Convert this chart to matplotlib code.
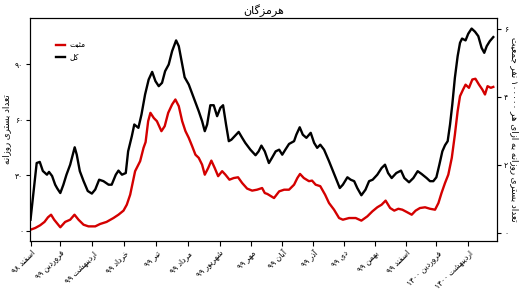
import matplotlib
matplotlib.use("Agg")
import matplotlib.pyplot as plt

# ---------------- data ----------------
# day offsets from 1 Esfand 1398 (2020-02-20)
total_days = [0, 3, 6, 9, 12, 16, 18, 21, 24, 26, 29, 32, 35, 38.6, 43, 45, 48, 51.6, 55.7, 59.7,
              63, 66.8, 71, 76, 79, 83, 85.6, 89, 92.7, 95, 98.6, 101, 105, 108, 111.5, 115,
              118.4, 121.6, 124.8, 128, 131, 134.5, 137.8, 141.7, 144.3, 147, 150, 154, 157,
              160.5, 163.7, 167, 169.6, 171.9, 175, 178.3, 181.6, 184.8, 187.4, 190.3, 193,
              195.5, 198.7, 202.6, 206, 209, 214, 219, 222, 224.7, 228, 232, 235, 238.6, 242,
              245, 248, 251.6, 256.5, 258.7, 262, 265, 268.5, 272.7, 276, 279, 282, 285.7,
              290.5, 293.8, 297, 301, 304, 308.4, 311.6, 315, 318, 322, 326, 329.5, 333,
              337.5, 341.7, 345, 348, 351.5, 356, 360.6, 363.8, 368.4, 372.6, 376.8, 380.6,
              385.5, 388.8, 392, 395, 397.9, 400.8, 403.4, 406, 408.3, 410.5, 413, 415.7,
              418, 420, 423.4, 426, 429.3, 432.6, 435.8, 439, 441.6, 444, 447, 450.4]
total_vals = [6.1, 21.6, 36.7, 37.3, 32.4, 30.4, 31.9, 29.7, 25, 23, 20.5, 25, 30.4, 35.8, 45.2,
              41.2, 32.3, 27, 21.6, 20.2, 22.4, 27.7, 26.9, 25, 25, 30.4, 32.6, 30.4, 31.3, 43,
              51.2, 57.5, 55.7, 62.9, 73.7, 81.8, 85.9, 80.9, 78.2, 80, 86.3, 89.9, 97.1,
              102.9, 99.8, 91.7, 83, 79.1, 74.6, 69.2, 64.7, 59.3, 53.9, 57.5, 67.9, 67.9, 62,
              66.5, 67.9, 57.5, 48.5, 49.3, 51.2, 53.5, 50.3, 47.6, 43.9, 40.9, 43, 46.1, 43,
              36.7, 39.5, 43, 43.9, 41.2, 43.9, 47, 48.5, 52, 56, 52, 50.3, 53, 47.6, 44.9,
              46.6, 43.9, 37.7, 33.1, 28.6, 23.2, 25, 29, 27.7, 26.9, 23.2, 19.3, 22.3, 26.9,
              27.7, 30.4, 34, 35.8, 31.3, 28.6, 31.3, 32.6, 28.6, 26.3, 28.6, 32.3, 30.8,
              28.6, 26.9, 26.9, 29, 35.8, 43, 46.3, 48.5, 57.5, 68.3, 82.7, 94.4, 101.6,
              103.9, 102.9, 106.5, 109.3, 107.6, 105.2, 98.9, 96.2, 99.8, 102.5, 104.7]

pos_days = [0, 4.5, 9.4, 13.6, 17, 20, 23, 29, 33.7, 38.6, 42.8, 46.7, 51.6, 56.4, 63, 67.8,
            74, 80.7, 85.6, 90.5, 93.7, 97, 101.8, 106.7, 110, 112, 114.5, 116.7, 120, 123,
            127.4, 130.6, 134, 137.8, 141, 144.3, 147.6, 150.8, 154, 157.3, 160.5, 163.7,
            167, 169.6, 172.9, 176, 179.3, 182.6, 186.5, 189.7, 193.6, 197.8, 202, 206,
            210.8, 215.7, 220.5, 225.4, 228, 230.5, 237, 242, 246.8, 251.6, 256.5, 259.7,
            262.3, 266, 271, 274, 277.5, 282, 286.7, 290.5, 295.4, 300.3, 304, 310, 316.5,
            322, 327.8, 332.7, 337.5, 341.7, 345.6, 350, 354, 358, 361.9, 366, 371, 374.8,
            379, 384, 388.8, 393.7, 397, 400, 403.4, 406.6, 410, 413, 415.7, 418, 421,
            423.4, 426.7, 430, 433, 436.5, 439.7, 442.3, 444.8, 448, 450.4]
pos_vals = [0.7, 1.6, 3.1, 4.9, 7.4, 8.8, 6.1, 2, 4.9, 6.1, 8.8, 6.1, 3.4, 2.5, 2.5, 3.8, 4.9,
            7, 8.8, 11, 14.2, 19.6, 32.3, 37.7, 44.9, 48, 59.3, 63.8, 61, 59.3, 53.9, 56.6,
            63.8, 68.3, 71, 67.4, 59.3, 53.9, 50.3, 45.8, 41.2, 39.5, 35.8, 30.4, 34, 38, 34,
            29.6, 32.3, 30.4, 27.7, 28.6, 29, 25.9, 22.9, 21.8, 22.3, 23.2, 20.5, 20, 17.8,
            21.4, 22.3, 22.3, 25, 28.6, 30.8, 28.6, 26.9, 27.2, 25, 24.2, 19.6, 15.1, 11.5,
            7, 6.1, 7, 7, 5.6, 7.9, 10.6, 12.8, 14.2, 16.4, 12.4, 11, 12, 11.5, 10.3, 8.8,
            11, 12.4, 12.8, 12, 11.5, 15.1, 20.5, 25.9, 30.4, 39.5, 52, 64.7, 72.8, 76.4,
            79, 77.3, 81.8, 82.2, 79, 76.4, 73.7, 78.2, 77.3, 77.8]

month_days = [0, 29, 60, 91, 122, 153, 184, 215, 245, 275, 305, 335, 365, 395, 426]
month_labels = ["اسفند ۹۸", "فروردین ۹۹", "اردیبهشت ۹۹", "خرداد ۹۹", "تیر ۹۹", "مرداد ۹۹",
                "شهریور ۹۹", "مهر ۹۹", "آبان ۹۹", "آذر ۹۹", "دی ۹۹", "بهمن ۹۹", "اسفند ۹۹",
                "فروردین ۱۴۰۰", "اردیبهشت ۱۴۰۰"]
left_ticks = [0, 30, 60, 90]
left_tick_labels = ["۰", "۳۰", "۶۰", "۹۰"]
right_ticks = [0, 2, 4, 6]
right_tick_labels = ["۰", "۲", "۴", "۶"]

title_text = "هرمزگان"
series_names = ["مثبت", "کل"]
left_label = "تعداد بستری روزانه"
right_label = "تعداد بستری روزانه به ازای هر ۱۰۰۰۰۰ نفر جمعیت"

# ------------- simple Persian shaping (matplotlib has no complex text layout) -------------
FORMS = {
    'ا': ('\uFE8D', '\uFE8E', None, None),
    'آ': ('\uFE81', '\uFE82', None, None),
    'ب': ('\uFE8F', '\uFE90', '\uFE91', '\uFE92'),
    'ت': ('\uFE95', '\uFE96', '\uFE97', '\uFE98'),
    'ث': ('\uFE99', '\uFE9A', '\uFE9B', '\uFE9C'),
    'ج': ('\uFE9D', '\uFE9E', '\uFE9F', '\uFEA0'),
    'خ': ('\uFEA5', '\uFEA6', '\uFEA7', '\uFEA8'),
    'د': ('\uFEA9', '\uFEAA', None, None),
    'ذ': ('\uFEAB', '\uFEAC', None, None),
    'ر': ('\uFEAD', '\uFEAE', None, None),
    'ز': ('\uFEAF', '\uFEB0', None, None),
    'س': ('\uFEB1', '\uFEB2', '\uFEB3', '\uFEB4'),
    'ش': ('\uFEB5', '\uFEB6', '\uFEB7', '\uFEB8'),
    'ع': ('\uFEC9', '\uFECA', '\uFECB', '\uFECC'),
    'ف': ('\uFED1', '\uFED2', '\uFED3', '\uFED4'),
    'ک': ('\uFB8E', '\uFB8F', '\uFB90', '\uFB91'),
    'گ': ('\uFB92', '\uFB93', '\uFB94', '\uFB95'),
    'ل': ('\uFEDD', '\uFEDE', '\uFEDF', '\uFEE0'),
    'م': ('\uFEE1', '\uFEE2', '\uFEE3', '\uFEE4'),
    'ن': ('\uFEE5', '\uFEE6', '\uFEE7', '\uFEE8'),
    'ه': ('\uFEE9', '\uFEEA', '\uFEEB', '\uFEEC'),
    'و': ('\uFEED', '\uFEEE', None, None),
    'ی': ('\uFBFC', '\uFBFD', '\uFBFE', '\uFBFF'),
}


def shape_word(w):
    out = []
    for i, ch in enumerate(w):
        if ch not in FORMS:
            out.append(ch)
            continue
        iso, fin, ini, med = FORMS[ch]
        prev_j = i > 0 and w[i - 1] in FORMS and FORMS[w[i - 1]][2] is not None
        next_j = ini is not None and i < len(w) - 1 and w[i + 1] in FORMS
        if prev_j and next_j:
            out.append(med)
        elif prev_j:
            out.append(fin)
        elif next_j:
            out.append(ini)
        else:
            out.append(iso)
    return ''.join(out)


def fa(text):
    words = text.split(' ')
    vis = []
    for w in words:
        if any(c in FORMS for c in w):
            vis.append(shape_word(w)[::-1])
        else:
            vis.append(w)
    return ' '.join(vis[::-1])


# ---------------- plot ----------------
plt.rcParams['font.family'] = ['DejaVu Sans']
fig = plt.figure(figsize=(5.25, 2.93), dpi=100)
ax = fig.add_axes([30 / 525, 1 - 241 / 293, 467 / 525, 223 / 293])
ax2 = ax.twinx()

l1, = ax.plot(pos_days, pos_vals, color='#d40000', lw=1.7, label=fa(series_names[0]))
l2, = ax.plot(total_days, total_vals, color='black', lw=1.7, label=fa(series_names[1]))

ax.set_xlim(-0.5, 454)
ax.set_ylim(-5.4, 115)
ax2.set_ylim(-0.24, 6.32)

ax.set_xticks(month_days)
ax.set_xticklabels([fa(s) for s in month_labels], rotation=45, ha='right',
                   rotation_mode='anchor', fontsize=5.5)
ax.set_yticks(left_ticks)
ax.set_yticklabels(left_tick_labels, fontsize=5.5)
ax2.set_yticks(right_ticks)
ax2.set_yticklabels(right_tick_labels, fontsize=5.5)
ax.tick_params(axis='x', length=3.5, width=0.8, pad=2)
ax.tick_params(axis='y', length=3, width=0.8, pad=2)
ax2.tick_params(axis='y', length=3, width=0.8, pad=2)

ax.set_ylabel(fa(left_label), fontsize=6.3, labelpad=3)
ax2.set_ylabel(fa(right_label), fontsize=6.3, rotation=270, labelpad=8)
ax.set_title(fa(title_text), fontsize=8, pad=3)

for a in (ax, ax2):
    for s in a.spines.values():
        s.set_linewidth(0.8)

ax.legend(handles=[l1, l2], loc='upper left', bbox_to_anchor=(0.04, 0.93), frameon=False,
          fontsize=5.5, handlelength=1.2, handletextpad=0.6, labelspacing=0.4)

fig.savefig('out.png', dpi=100)
